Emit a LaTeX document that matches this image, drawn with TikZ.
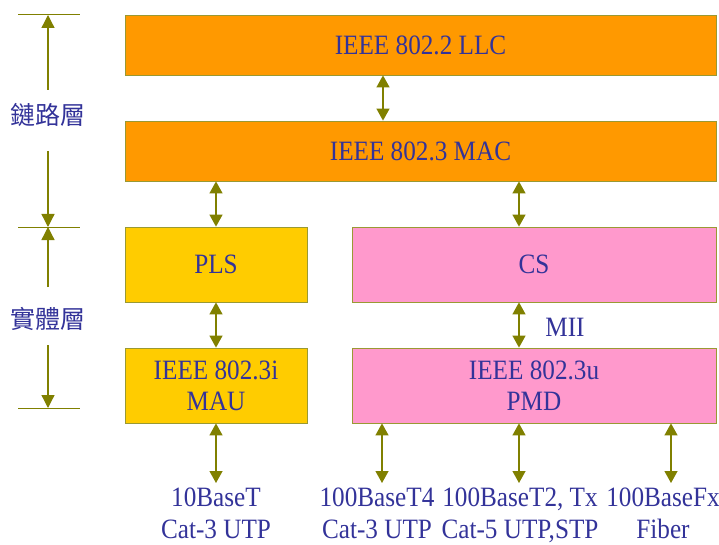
\documentclass[tikz,border=0pt]{standalone}
\usepackage{fontspec}
\setmainfont[FakeStretch=0.9]{Liberation Serif}
\newfontfamily\cjk{Noto Sans CJK TC}
\usetikzlibrary{arrows.meta}
\definecolor{boxorange}{HTML}{FF9900}
\definecolor{boxyellow}{HTML}{FFCC00}
\definecolor{boxpink}{HTML}{FF99CC}
\definecolor{edgeolive}{HTML}{999933}
\definecolor{arrowolive}{HTML}{808000}
\definecolor{textblue}{HTML}{333399}
\tikzset{
  layerbox/.style={draw=edgeolive, line width=0.8pt, inner sep=0pt,
    text=textblue, font=\fontsize{28}{31}\selectfont, align=center},
  label/.style={text=textblue, font=\fontsize{28}{32}\selectfont, align=center, inner sep=0pt},
  cjklabel/.style={text=textblue, font=\cjk\fontsize{25}{30}\selectfont, inner sep=0pt},
  biarrow/.style={draw=arrowolive, line width=1.3pt,
    {Triangle[width=13pt,length=12pt]}-{Triangle[width=13pt,length=12pt]}},
  onearrow/.style={draw=arrowolive, line width=1.3pt, -{Triangle[width=13pt,length=13pt]}},
  tick/.style={draw=arrowolive, line width=1pt}
}
\begin{document}
\begin{tikzpicture}[x=1pt,y=-1pt]
\useasboundingbox (0,0) rectangle (719,545);

% protocol layers
\node[layerbox, fill=boxorange, minimum width=591pt, minimum height=60pt] (llc) at (420.5,45) {IEEE 802.2 LLC};
\node[layerbox, fill=boxorange, minimum width=591pt, minimum height=60pt] (mac) at (420.5,151) {IEEE 802.3 MAC};
\node[layerbox, fill=boxyellow, minimum width=182pt, minimum height=75pt] (pls) at (216,264.5) {PLS};
\node[layerbox, fill=boxpink, minimum width=364pt, minimum height=75pt] (cs) at (534,264.5) {CS};
\node[layerbox, fill=boxyellow, minimum width=182pt, minimum height=75pt] (mau) at (216,385.5) {IEEE 802.3i\\MAU};
\node[layerbox, fill=boxpink, minimum width=364pt, minimum height=75pt] (pmd) at (534,385.5) {IEEE 802.3u\\PMD};

% x positions of the vertical links
\coordinate (xllc) at (383,0);
\coordinate (xcs) at (519,0);
\coordinate (xta) at (382,0);
\coordinate (xtb) at (519,0);
\coordinate (xfx) at (671,0);

% links between layers
\draw[biarrow] (llc.south -| xllc) -- (mac.north -| xllc);
\draw[biarrow] (mac.south -| pls.north) -- (pls.north);
\draw[biarrow] (mac.south -| xcs) -- (cs.north -| xcs);
\draw[biarrow] (pls.south) -- (mau.north);
\draw[biarrow] (cs.south -| xcs) -- (pmd.north -| xcs);
\node[label] (mii) at (565,327) {MII};

% media
\coordinate (m0) at (216,483);
\coordinate (m1) at (382,483);
\coordinate (m2) at (519,483);
\coordinate (m3) at (671,483);
\draw[biarrow] (mau.south) -- (m0);
\draw[biarrow] (pmd.south -| xta) -- (m1);
\draw[biarrow] (pmd.south -| xtb) -- (m2);
\draw[biarrow] (pmd.south -| xfx) -- (m3);
\node[label] (t10) at (216,516) {\strut 10BaseT\\\strut Cat-3 UTP};
\node[label] (t4) at (377,516) {\strut 100BaseT4\\\strut Cat-3 UTP};
\node[label] (t2) at (520,516) {\strut 100BaseT2, Tx\\\strut Cat-5 UTP,STP};
\node[label] (fx) at (663,516) {\strut 100BaseFx\\\strut Fiber};

% layer extents on the left
\coordinate (ta) at (48,15);
\coordinate (tb) at (48,227);
\coordinate (tc) at (48,408);
\draw[tick] ([xshift=-30pt]ta) -- ([xshift=32pt]ta);
\draw[tick] ([xshift=-30pt]tb) -- ([xshift=32pt]tb);
\draw[tick] ([xshift=-30pt]tc) -- ([xshift=32pt]tc);
\node[cjklabel] (dl) at (48,115) {鏈路層};
\node[cjklabel] (ph) at (48,319) {實體層};
\draw[onearrow] ([yshift=25pt]dl.center) -- (ta);
\draw[onearrow] ([yshift=-36pt]dl.center) -- (tb);
\draw[onearrow] ([yshift=32pt]ph.center) -- (tb);
\draw[onearrow] ([yshift=-26pt]ph.center) -- (tc);
\end{tikzpicture}
\end{document}
